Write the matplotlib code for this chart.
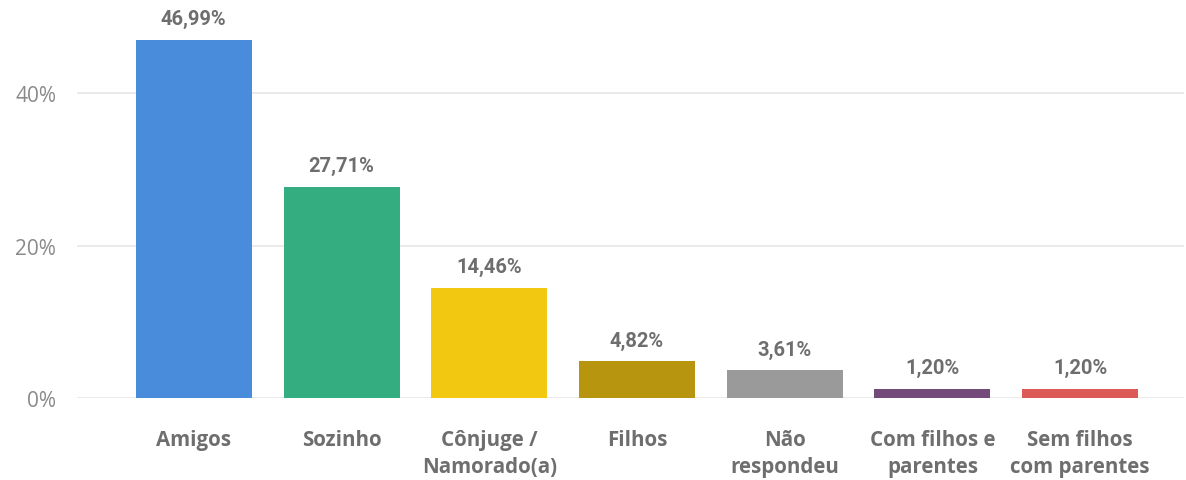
import matplotlib.pyplot as plt
from matplotlib.ticker import FuncFormatter

categorias = ["Amigos", "Sozinho", "Cônjuge /\nNamorado(a)", "Filhos",
              "Não\nrespondeu", "Com filhos e\nparentes", "Sem filhos\ncom parentes"]
valores = [46.99, 27.71, 14.46, 4.82, 3.61, 1.20, 1.20]
cores = ["#4A8CDC", "#34AE80", "#F2C811", "#B7950E", "#9A9A9A", "#744A7A", "#DD5B57"]
yticks = [0, 20, 40]

fig = plt.figure(figsize=(11.86, 4.81), dpi=100)
ax = fig.add_axes([0.065, 0.1705, 0.933, 0.7925])

x = range(len(categorias))
bars = ax.bar(x, valores, width=0.785, color=cores, zorder=2)

for b, v in zip(bars, valores):
    ax.text(b.get_x() + b.get_width() / 2, v + 1.5, f"{v:.2f}%".replace(".", ","),
            ha="center", va="bottom", fontsize=14.5, fontweight="bold",
            color="#6E6E6E", family="Roboto", clip_on=False)

ax.set_xlim(-0.79, 6.70)
ax.set_ylim(0, 50)
ax.set_yticks(yticks)
ax.yaxis.set_major_formatter(FuncFormatter(lambda v, p: f"{v:.0f}%"))
ax.grid(axis="y", color="#E6E6E6", linewidth=1.2, zorder=0)
for s in ax.spines.values():
    s.set_visible(False)
ax.tick_params(axis="both", length=0)
ax.tick_params(axis="y", labelsize=15, labelcolor="#8A8A8A", pad=15)
ax.set_xticks(list(x))
ax.set_xticklabels(categorias, fontsize=14.8, fontweight="bold", color="#6E6E6E",
                   family="Open Sans", linespacing=1.4, va="top")
ax.tick_params(axis="x", pad=22)
for t in ax.get_yticklabels():
    t.set_family("Open Sans")

plt.savefig("out.png", dpi=100)
